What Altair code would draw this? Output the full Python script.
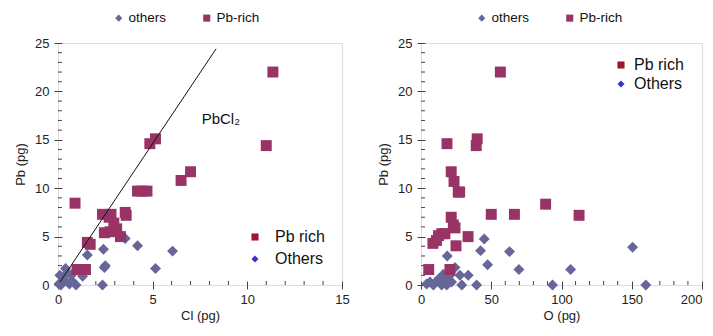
import altair as alt
import pandas as pd

# ---------------- data ----------------
# Left panel: Cl (pg) vs Pb (pg)
cl_rich_cl = [11.35, 11.0, 4.85, 5.15, 6.5, 7.0, 4.2, 4.45, 4.7, 0.9, 2.35, 2.8, 2.7,
              3.6, 3.55, 2.95, 3.1, 2.45, 2.75, 3.3, 1.55, 1.7, 1.0, 1.45, 1.2]
cl_rich_pb = [22.0, 14.4, 14.6, 15.1, 10.8, 11.7, 9.7, 9.7, 9.7, 8.45, 7.3, 7.3, 7.0,
              7.2, 7.5, 6.4, 5.8, 5.4, 5.5, 5.0, 4.4, 4.2, 1.6, 1.6, 1.6]
cl_other_cl = [3.55, 4.2, 2.4, 1.55, 6.05, 2.5, 2.45, 5.15, 2.35, 1.3, 0.4, 0.1, 0.2,
               0.6, 0.75, 0.95, 0.3, 0.7, 0.05, 0.5, 0.15]
cl_other_pb = [4.8, 4.05, 3.7, 3.1, 3.5, 2.0, 1.8, 1.7, 0.0, 0.9, 1.7, 1.0, 0.3,
               0.1, 0.4, 0.0, 0.6, 1.0, 0.1, 1.3, 0.0]

# Right panel: O (pg) vs Pb (pg)
o_rich_o = [56.5, 18.5, 40.0, 39.3, 21.5, 23.5, 26.5, 27.5, 88.7, 50.0, 66.5, 112.5,
            21.5, 23.0, 24.2, 33.5, 8.5, 11.0, 12.5, 14.8, 17.0, 24.9, 5.5, 20.6]
o_rich_pb = [22.0, 14.6, 15.1, 14.4, 11.7, 10.7, 9.6, 9.6, 8.35, 7.3, 7.3, 7.2,
             7.0, 6.2, 5.9, 5.0, 4.3, 4.6, 5.1, 5.3, 5.3, 4.05, 1.6, 1.6]
o_other_o = [45.0, 42.4, 18.7, 47.4, 63.0, 69.7, 106.5, 150.6, 160.0, 93.6, 39.6, 29.0,
             33.6, 27.7, 24.2, 4.0, 6.4, 8.8, 13.5, 14.7, 17.0, 18.3, 19.4, 20.6, 15.9,
             12.3, 21.8]
o_other_pb = [4.75, 3.55, 3.0, 2.1, 3.45, 1.6, 1.6, 3.9, 0.0, 0.0, 0.0, 0.0,
              1.0, 1.0, 1.8, 0.1, 0.3, 0.0, 0.3, 0.0, 0.8, 0.0, 0.45, 1.0, 1.1,
              0.6, 0.3]

# PbCl2 stoichiometric line and its label (left panel)
pbcl2_cl = [0.1, 8.35]
pbcl2_pb = [0.29, 24.4]
pbcl2_label_cl = [8.6]
pbcl2_label_pb = [17.1]
pbcl2_label = ["PbCl\u2082"]

# axis ticks
pb_major = [0, 5, 10, 15, 20, 25]
pb_minor = [v for v in range(0, 26) if v % 5 != 0]
cl_major = [0, 5, 10, 15]
cl_minor = [v for v in range(0, 16) if v % 5 != 0]
o_major = [0, 50, 100, 150, 200]
o_minor = [v for v in range(0, 201, 10) if v % 50 != 0]

# legends
top_keys = ["others", "Pb-rich"]
top_colors = ["#666699", "#993366"]
top_shapes = ["diamond", "square"]
inner_keys = ["Pb rich", "Others"]
inner_colors = ["#A01430", "#3434CC"]
inner_shapes = ["square", "diamond"]

FONT = "Liberation Sans"
H = 242
TICK = "#444"


def make_axis(title, values, orient, lpad, tpad, last=None):
    extra = {}
    if last is not None:
        # keep the last label inside the page
        extra["labelAlign"] = {"condition": {"test": f"datum.value === {last}", "value": "right"},
                               "value": "center"}
    return alt.Axis(
        title=title, values=values, orient=orient, offset=-4, domain=False, grid=False,
        tickSize=8, tickColor=TICK, tickWidth=1,
        labelOverlap=False, labelFlush=False, labelPadding=lpad,
        labelFontSize=13, labelColor="#222", labelFont=FONT,
        titleFontSize=13, titleColor="#222", titleFontWeight="normal", titleFont=FONT,
        titlePadding=tpad, **extra,
    )


def panel(rx, ry, ox, oy, xmax, xmajor, xminor, xtitle, width, inner_x, inner_y,
          inner_rowpad, inner_off, last=None, extra=None):
    df = pd.DataFrame({
        "x": ox + rx,
        "pb": oy + ry,
        "kind": ["others"] * len(ox) + ["Pb-rich"] * len(rx),
    })
    xscale = alt.Scale(domain=[0, xmax], nice=False, zero=True)
    yscale = alt.Scale(domain=[0, 25], nice=False, zero=True)
    xaxis = make_axis(xtitle, xmajor, "bottom", 4, 3, last)
    yaxis = make_axis("Pb (pg)", pb_major, "left", 5, 7)

    top_leg = alt.Legend(
        orient="none", legendX=54, legendY=-32, direction="horizontal", title=None,
        labelFontSize=13.5, labelFont=FONT, labelColor="#111", symbolSize=50,
        symbolStrokeWidth=0, labelOffset=3, columnPadding=33, padding=0,
    )
    pts = alt.Chart(df).mark_point(filled=True, opacity=1, size=120, strokeWidth=0).encode(
        x=alt.X("x:Q", scale=xscale, axis=xaxis),
        y=alt.Y("pb:Q", scale=yscale, axis=yaxis),
        color=alt.Color("kind:N", scale=alt.Scale(domain=top_keys, range=top_colors), legend=top_leg),
        shape=alt.Shape("kind:N", scale=alt.Scale(domain=top_keys, range=top_shapes), legend=top_leg),
    )

    # minor ticks, pointing into the plot from each axis line
    xt = alt.Chart(pd.DataFrame({"x": xminor})).mark_rule(color=TICK, strokeWidth=1).encode(
        x=alt.X("x:Q"), y=alt.value(H), y2=alt.value(H - 4))
    yt = alt.Chart(pd.DataFrame({"pb": pb_minor})).mark_rule(color=TICK, strokeWidth=1).encode(
        y=alt.Y("pb:Q"), x=alt.value(0), x2=alt.value(4))

    inner_leg = alt.Legend(
        orient="none", legendX=inner_x, legendY=inner_y, direction="vertical", title=None,
        labelFontSize=16, labelFont=FONT, labelColor="#111", symbolSize=50,
        symbolStrokeWidth=0, symbolOpacity=1, labelOffset=inner_off, rowPadding=inner_rowpad,
        padding=0,
    )
    leg_df = pd.DataFrame({"x": [0.0, 0.0], "pb": [0.0, 0.0], "key": inner_keys})
    leg = alt.Chart(leg_df).mark_point(filled=True, opacity=0, size=1).encode(
        x=alt.X("x:Q"),
        y=alt.Y("pb:Q"),
        color=alt.Color("key:N", scale=alt.Scale(domain=inner_keys, range=inner_colors), legend=inner_leg),
        shape=alt.Shape("key:N", scale=alt.Scale(domain=inner_keys, range=inner_shapes), legend=inner_leg),
    )
    layers = [xt, yt, pts, leg]
    if extra:
        layers += extra
    return alt.layer(*layers).resolve_scale(color="independent", shape="independent").properties(
        width=width, height=H)


line_df = pd.DataFrame({"x": pbcl2_cl, "pb": pbcl2_pb})
line = alt.Chart(line_df).mark_line(color="#111", strokeWidth=1).encode(x="x:Q", y="pb:Q")
lab_df = pd.DataFrame({"x": pbcl2_label_cl, "pb": pbcl2_label_pb, "t": pbcl2_label})
lab = alt.Chart(lab_df).mark_text(fontSize=15, font=FONT, color="#111", align="center",
                                  baseline="middle").encode(x="x:Q", y="pb:Q", text="t:N")

left = panel(cl_rich_cl, cl_rich_pb, cl_other_cl, cl_other_pb, 15, cl_major, cl_minor,
             "Cl (pg)", 284, 189, 186, 6, 12, extra=[line, lab])
right = panel(o_rich_o, o_rich_pb, o_other_o, o_other_pb, 200, o_major, o_minor,
              "O (pg)", 281, 192, 14, 3, 5, last=200)

chart = alt.hconcat(left, right, spacing=27).resolve_scale(
    color="independent", shape="independent"
).properties(
    padding={"left": 6, "top": 2, "right": 0, "bottom": 0}
).configure_view(stroke="#666", strokeWidth=1).configure(font=FONT)

chart.save("out.html", embed_options={"renderer": "svg", "actions": False})
